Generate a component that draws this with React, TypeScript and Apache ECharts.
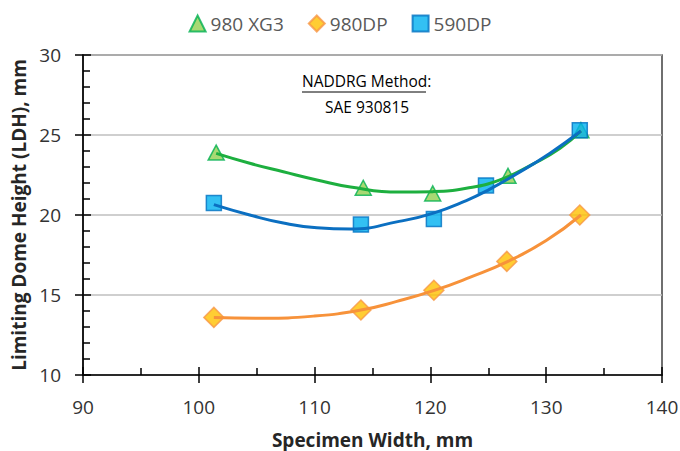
import React, { useEffect, useRef } from "react";
import * as echarts from "echarts";

// Measured data points
const xg3X = [101.5, 114.2, 120.2, 126.7, 133.0];
const xg3Y = [23.9, 21.7, 21.35, 22.45, 25.3];
const dp980X = [101.3, 114.0, 120.3, 126.6, 132.9];
const dp980Y = [13.6, 14.06, 15.3, 17.1, 20.0];
const dp590X = [101.3, 114.0, 120.3, 124.8, 132.9];
const dp590Y = [20.75, 19.4, 19.75, 21.85, 25.3];

// Trendlines
const xg3TrendX = [101.5, 104.4, 107.3, 110.2, 113.1, 117.3, 120.2, 123.1, 126.0, 128.9, 131.2, 133.0];
const xg3TrendY = [23.85, 23.23, 22.7, 22.19, 21.75, 21.43, 21.46, 21.67, 22.2, 23.2, 24.17, 25.25];
const dp980TrendX = [101.3, 105.5, 109.9, 114.0, 117.1, 120.4, 123.4, 126.7, 130.0, 133.0];
const dp980TrendY = [13.6, 13.55, 13.68, 14.06, 14.6, 15.3, 16.1, 17.1, 18.4, 20.0];
const dp590TrendX = [101.3, 104.4, 107.3, 110.2, 113.1, 117.3, 120.2, 123.1, 125.1, 127.4, 130.3, 133.0];
const dp590TrendY = [20.65, 20.0, 19.5, 19.2, 19.12, 19.6, 20.1, 20.9, 21.6, 22.55, 23.85, 25.25];

const seriesNames = ["980 XG3", "980DP", "590DP"];
const xTicks = { min: 90, max: 140, interval: 10 };
const yTicks = { min: 10, max: 30, interval: 5 };

const FONT = "'Open Sans', 'Noto Sans', sans-serif";

const zip = (xs: number[], ys: number[]) => xs.map((x, i) => [x, ys[i]]);

export default function App() {
  const ref = useRef<HTMLDivElement>(null);
  useEffect(() => {
    if (!ref.current) return;
    const chart = echarts.init(ref.current, undefined, { renderer: "svg" });
    const axisBlack = "#000";
    chart.setOption({
      animation: false,
      backgroundColor: "#fff",
      textStyle: { fontFamily: FONT },
      grid: {
        left: 83,
        right: 18,
        top: 55,
        bottom: 76,
        containLabel: false,
        outerBoundsMode: "none",
        show: true,
        borderColor: "#404040",
        borderWidth: 1.5,
      },
      legend: {
        top: 9,
        left: "center",
        itemWidth: 16,
        itemHeight: 16,
        itemGap: 24,
        textStyle: { fontFamily: FONT, fontSize: 19, color: "#595959" },
        data: [
          { name: seriesNames[0], icon: "triangle" },
          { name: seriesNames[1], icon: "diamond" },
          { name: seriesNames[2], icon: "rect" },
        ],
      },
      xAxis: [
        {
          type: "value",
          position: "bottom",
          ...xTicks,
          axisLine: { show: true, lineStyle: { color: axisBlack, width: 1.5 } },
          axisTick: { show: true, inside: false, length: 8, lineStyle: { color: axisBlack, width: 1.5 } },
          axisLabel: { fontSize: 19, color: "#333", margin: 22, fontFamily: FONT },
          splitLine: { show: false },
          name: "Specimen Width, mm",
          nameLocation: "middle",
          nameGap: 55,
          nameTextStyle: { fontSize: 19, fontWeight: "bold", color: "#262626", fontFamily: FONT },
        },
        {
          type: "value",
          position: "bottom",
          ...xTicks,
          axisLine: { show: false },
          axisTick: { show: true, inside: true, length: 8, lineStyle: { color: axisBlack, width: 1.5 } },
          minorTick: { show: true, splitNumber: 2, length: 7, lineStyle: { color: axisBlack, width: 1.5 } },
          axisLabel: { show: false },
          splitLine: { show: false },
        },
      ],
      yAxis: [
        {
          type: "value",
          position: "left",
          ...yTicks,
          axisLine: { show: true, lineStyle: { color: axisBlack, width: 1.5 } },
          axisTick: { show: true, inside: false, length: 8, lineStyle: { color: axisBlack, width: 1.5 } },
          axisLabel: { fontSize: 19, color: "#333", margin: 22, fontFamily: FONT },
          splitLine: { show: true, lineStyle: { color: "#BFBFBF", width: 1.5 } },
          name: "Limiting Dome Height (LDH), mm",
          nameLocation: "middle",
          nameGap: 52,
          nameRotate: 90,
          nameTextStyle: { fontSize: 19, fontWeight: "bold", color: "#262626", fontFamily: FONT },
        },
        {
          type: "value",
          position: "left",
          ...yTicks,
          axisLine: { show: false },
          axisTick: { show: true, inside: true, length: 8, lineStyle: { color: axisBlack, width: 1.5 } },
          minorTick: { show: true, splitNumber: 5, length: 7, lineStyle: { color: axisBlack, width: 1.5 } },
          axisLabel: { show: false },
          splitLine: { show: false },
        },
      ],
      graphic: [
        {
          type: "text",
          left: 302,
          top: 73,
          style: { text: "NADDRG Method:", fontSize: 15.5, fontFamily: FONT, fill: "#000" },
        },
        {
          type: "line",
          shape: { x1: 302, y1: 92, x2: 426, y2: 92 },
          style: { stroke: "#000", lineWidth: 1 },
        },
        {
          type: "text",
          left: 325,
          top: 99,
          style: { text: "SAE 930815", fontSize: 15.5, fontFamily: FONT, fill: "#000" },
        },
      ],
      series: [
        {
          name: seriesNames[0],
          type: "scatter",
          symbol: "triangle",
          symbolSize: [16, 15],
          data: zip(xg3X, xg3Y),
          itemStyle: { color: "#92D050", borderColor: "#00B050", borderWidth: 1.5 },
          z: 3,
        },
        {
          name: seriesNames[1],
          type: "scatter",
          symbol: "diamond",
          symbolSize: 20,
          data: zip(dp980X, dp980Y),
          itemStyle: { color: "#FFC000", borderColor: "#F79646", borderWidth: 1.5 },
          z: 3,
        },
        {
          name: seriesNames[2],
          type: "scatter",
          symbol: "rect",
          symbolSize: 15,
          data: zip(dp590X, dp590Y),
          itemStyle: { color: "#00B0F0", borderColor: "#0070C0", borderWidth: 1.5 },
          z: 3,
        },
        {
          name: "XG3 trend",
          type: "line",
          smooth: 0.5,
          showSymbol: false,
          data: zip(xg3TrendX, xg3TrendY),
          lineStyle: { color: "#1DAF3F", width: 3 },
          z: 4,
        },
        {
          name: "980DP trend",
          type: "line",
          smooth: 0.5,
          showSymbol: false,
          data: zip(dp980TrendX, dp980TrendY),
          lineStyle: { color: "#F7923A", width: 3 },
          z: 4,
        },
        {
          name: "590DP trend",
          type: "line",
          smooth: 0.5,
          showSymbol: false,
          data: zip(dp590TrendX, dp590TrendY),
          lineStyle: { color: "#0B6FC1", width: 3 },
          z: 4,
        },
      ],
    });
    return () => chart.dispose();
  }, []);
  return <div ref={ref} style={{ width: 680, height: 451, position: "absolute", left: 0, top: 0 }} />;
}
